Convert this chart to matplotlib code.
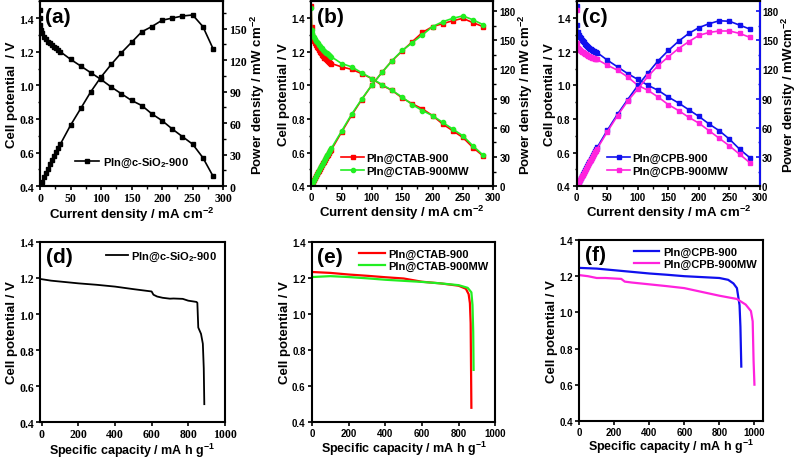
import matplotlib
matplotlib.use("Agg")
import matplotlib.pyplot as plt
from matplotlib.ticker import AutoMinorLocator

# ---- data ----
# (a) PIn@c-SiO2-900 polarisation
cur_a = [0, 0.3, 0.7, 1.7, 3.3, 6.7, 10, 13.3, 16.7, 20, 23.3, 26.7, 30, 33.3,
         50, 66.7, 83.3, 100, 116.7, 133.3, 150, 166.7, 183.3, 200, 216.7, 233.3, 250, 266.7, 283.3]
volt_a = [1.45, 1.40, 1.36, 1.33, 1.31, 1.29, 1.275, 1.26, 1.25, 1.24, 1.23, 1.22, 1.21, 1.20,
          1.155, 1.115, 1.075, 1.035, 0.99, 0.95, 0.91, 0.88, 0.83, 0.79, 0.74, 0.695, 0.65, 0.57, 0.46]
pow_a = [0, 0.4, 1.0, 2.3, 4.3, 8.6, 12.8, 16.8, 20.8, 24.8, 28.7, 32.6, 36.3, 40,
         58, 74, 90, 104, 116, 127, 137, 147, 152, 158, 160, 162, 163, 152, 131]

# (b),(c) share the current grid
cur_bc = [0, 0.7, 1.7, 3.3, 5, 6.7, 8.3, 10, 11.7, 13.3, 15, 16.7, 18.3, 20, 21.7, 23.3, 25, 26.7,
          28.3, 30, 31.7, 33.3, 50, 66.7, 83.3, 100, 116.7, 133.3, 150, 166.7, 183.3, 200, 216.7,
          233.3, 250, 266.7, 283.3]
volt_ctab = [1.47, 1.35, 1.30, 1.28, 1.265, 1.25, 1.24, 1.23, 1.22, 1.21, 1.20, 1.19, 1.18, 1.175,
             1.165, 1.16, 1.155, 1.15, 1.145, 1.14, 1.135, 1.13, 1.11, 1.095, 1.07, 1.04, 1.0, 0.97,
             0.925, 0.89, 0.86, 0.82, 0.77, 0.73, 0.69, 0.63, 0.58]
pow_ctab = [0, 0.9, 2.2, 4.2, 6.3, 8.4, 10.3, 12.3, 14.3, 16.1, 18, 19.9, 21.6, 23.5, 25.3, 27, 28.9,
            30.7, 32.4, 34.2, 36, 37.6, 55.5, 73, 89, 104, 117, 129, 139, 148.5, 158, 164, 167, 170,
            172.5, 168, 164]
volt_ctab_mw = [1.46, 1.33, 1.31, 1.295, 1.285, 1.275, 1.265, 1.255, 1.25, 1.24, 1.235, 1.225, 1.22,
                1.21, 1.205, 1.2, 1.195, 1.19, 1.185, 1.18, 1.175, 1.17, 1.13, 1.11, 1.075, 1.04,
                1.005, 0.97, 0.93, 0.885, 0.85, 0.82, 0.78, 0.74, 0.70, 0.64, 0.585]
pow_ctab_mw = [0, 0.9, 2.2, 4.3, 6.4, 8.5, 10.5, 12.6, 14.6, 16.5, 18.5, 20.4, 22.3, 24.2, 26.1, 28,
               29.9, 31.8, 33.5, 35.4, 37.2, 39, 56.5, 74, 89.5, 104, 117, 129, 139.5, 147.5, 155.5,
               164, 169, 172.5, 175, 171, 166]
volt_cpb = [1.47, 1.36, 1.32, 1.30, 1.29, 1.28, 1.27, 1.262, 1.255, 1.248, 1.241, 1.235, 1.229,
            1.224, 1.219, 1.214, 1.21, 1.206, 1.203, 1.2, 1.197, 1.195, 1.15, 1.11, 1.07, 1.035,
            1.0, 0.97, 0.93, 0.895, 0.855, 0.815, 0.77, 0.73, 0.68, 0.62, 0.57]
pow_cpb = [0, 1, 2.2, 4.3, 6.5, 8.5, 10.6, 12.6, 14.7, 16.6, 18.6, 20.6, 22.5, 24.5, 26.4, 28.3, 30.1,
           32, 33.8, 35.9, 37.9, 39.8, 57.5, 74, 89, 103.5, 116.5, 129, 139.5, 149, 157, 163, 167,
           170, 169.5, 165.5, 161.5]
volt_cpb_mw = [1.45, 1.25, 1.225, 1.215, 1.21, 1.205, 1.2, 1.196, 1.192, 1.188, 1.184, 1.18, 1.177,
               1.174, 1.171, 1.168, 1.165, 1.162, 1.16, 1.158, 1.156, 1.154, 1.12, 1.09, 1.05, 1.0,
               0.97, 0.93, 0.885, 0.85, 0.81, 0.775, 0.73, 0.685, 0.64, 0.59, 0.54]
pow_cpb_mw = [0, 0.9, 2.1, 4, 6, 8, 10, 11.9, 13.9, 15.8, 17.8, 19.7, 21.5, 23.5, 25.4, 27.2, 29.1,
              31, 32.9, 34.7, 36.6, 38.4, 56, 72.5, 87.5, 100, 113, 124, 133, 141.5, 148.5, 155,
              158, 159.5, 159.5, 157, 153]

# (d) discharge
cap_d = [0, 50, 100, 200, 300, 400, 500, 600, 610, 630, 660, 700, 720, 770, 800, 845, 850, 855, 870, 880, 885, 888]
volt_d = [1.193, 1.185, 1.18, 1.17, 1.162, 1.152, 1.138, 1.125, 1.107, 1.097, 1.09, 1.085, 1.086, 1.084,
          1.074, 1.067, 1.062, 0.925, 0.89, 0.835, 0.70, 0.50]
# (e)
cap_e1 = [0, 100, 200, 300, 400, 500, 600, 700, 800, 840, 855, 862, 866, 870]
volt_e1 = [1.233, 1.228, 1.219, 1.212, 1.204, 1.197, 1.179, 1.170, 1.157, 1.14, 1.11, 1.06, 0.95, 0.48]
cap_e2 = [0, 100, 200, 300, 400, 500, 600, 700, 800, 850, 870, 876, 880, 882]
volt_e2 = [1.205, 1.21, 1.205, 1.198, 1.19, 1.184, 1.178, 1.17, 1.16, 1.145, 1.12, 1.05, 0.90, 0.69]
# (f)
cap_f1 = [0, 100, 200, 300, 400, 500, 600, 700, 800, 850, 880, 900, 915, 920, 925]
volt_f1 = [1.246, 1.242, 1.233, 1.224, 1.215, 1.208, 1.2, 1.195, 1.19, 1.18, 1.16, 1.134, 1.04, 0.92, 0.70]
cap_f2 = [0, 50, 100, 150, 240, 260, 300, 400, 500, 600, 700, 800, 900, 950, 980, 990, 995, 1000]
volt_f2 = [1.206, 1.20, 1.19, 1.19, 1.185, 1.17, 1.165, 1.155, 1.145, 1.134, 1.113, 1.092, 1.074,
           1.043, 1.007, 0.95, 0.735, 0.60]

# tick values
v_ticks = [0.4, 0.6, 0.8, 1.0, 1.2, 1.4]
cur_ticks = [0, 50, 100, 150, 200, 250, 300]
cap_ticks = [0, 200, 400, 600, 800, 1000]
p_ticks_a = [0, 30, 60, 90, 120, 150]
p_ticks_bc = [0, 30, 60, 90, 120, 150, 180]

RED = "#ff0000"
GREEN = "#22ee22"
BLUE = "#1010ee"
MAG = "#ff22dd"

plt.rcParams["font.family"] = ["Liberation Sans", "DejaVu Sans"]
plt.rcParams["font.weight"] = "bold"
plt.rcParams["axes.linewidth"] = 1.5
plt.rcParams["mathtext.fontset"] = "custom"
plt.rcParams["mathtext.rm"] = "Liberation Sans:bold"
plt.rcParams["mathtext.bf"] = "Liberation Sans:bold"
plt.rcParams["mathtext.it"] = "Liberation Sans:bold"
plt.rcParams["mathtext.default"] = "rm"

fig = plt.figure(figsize=(8, 4.6), dpi=100)

LABEL_FS = 9.5


def fam_of(serif):
    return ["Liberation Serif", "DejaVu Serif"] if serif else ["Liberation Sans", "DejaVu Sans"]


def set_ticks(ax, which, vals, fmt, serif):
    kw = dict(fontfamily=fam_of(serif), fontweight="bold", fontsize=8.5 if serif else 7)
    labels = [fmt % v for v in vals]
    if which == "x":
        ax.set_xticks(vals, labels, **kw)
    else:
        ax.set_yticks(vals, labels, **kw)


def style(ax, xlabel, ylabel, letter, xfs=LABEL_FS):
    ax.tick_params(direction="out", length=3, width=1.2, pad=1.5)
    ax.tick_params(which="minor", direction="out", length=1.8, width=1)
    ax.set_xlabel(xlabel, fontsize=xfs, fontweight="bold", labelpad=0)
    ax.set_ylabel(ylabel, fontsize=LABEL_FS, fontweight="bold", labelpad=1)
    ax.text(0.03, 0.97, letter, transform=ax.transAxes, fontsize=15, fontweight="bold",
            va="top", ha="left")


def twin_style(ax2, label, color="black"):
    d = "in" if color != "black" else "out"
    ax2.tick_params(direction=d, length=3, width=1.2, pad=1.5, color=color, labelcolor="black")
    ax2.tick_params(which="minor", axis="y", length=1.8, width=1, color=color, direction=d)
    ax2.spines["right"].set_color(color)
    ax2.set_ylabel(label, fontsize=LABEL_FS, fontweight="bold", labelpad=1)


xlab_top = "Current density / mA cm$^{-2}$"
xlab_bot = "Specific capacity / mA h g$^{-1}$"
sio2 = "PIn@c-SiO$_2$-900"

# ---- (a) ----
ax = fig.add_axes([0.05, 0.593, 0.229, 0.402])
ax.plot(cur_a, volt_a, "-s", color="black", ms=3, lw=1.2, label=sio2)
ax.set_xlim(0, 300)
ax.set_ylim(0.4, 1.5)
set_ticks(ax, "x", cur_ticks, "%d", True)
set_ticks(ax, "y", v_ticks, "%.1f", True)
ax.xaxis.set_minor_locator(AutoMinorLocator(2))
ax.yaxis.set_minor_locator(AutoMinorLocator(2))
style(ax, xlab_top, "Cell potential  / V", "(a)")
ax.legend(loc="lower center", bbox_to_anchor=(0.5, 0.04), frameon=False, fontsize=8,
          handlelength=2.2, handletextpad=0.3)
ax2 = ax.twinx()
ax2.plot(cur_a, pow_a, "-s", color="black", ms=3, lw=1.2)
ax2.set_ylim(0, 176)
set_ticks(ax2, "y", p_ticks_a, "%d", True)
ax2.yaxis.set_minor_locator(AutoMinorLocator(2))
twin_style(ax2, "Power density / mW cm$^{-2}$")

# ---- (b) ----
ax = fig.add_axes([0.389, 0.593, 0.2275, 0.402])
ax.plot(cur_bc, volt_ctab, "-s", color=RED, ms=3, lw=1.2, label="PIn@CTAB-900")
ax.plot(cur_bc, volt_ctab_mw, "-o", color=GREEN, ms=3, lw=1.2, label="PIn@CTAB-900MW")
ax.set_xlim(0, 300)
ax.set_ylim(0.4, 1.5)
set_ticks(ax, "x", cur_ticks, "%d", False)
set_ticks(ax, "y", v_ticks, "%.1f", False)
ax.xaxis.set_minor_locator(AutoMinorLocator(2))
ax.yaxis.set_minor_locator(AutoMinorLocator(2))
style(ax, xlab_top, "Cell potential / V", "(b)")
ax.legend(loc="lower left", bbox_to_anchor=(0.11, 0.0), frameon=False, fontsize=8.2,
          handlelength=2.0, handletextpad=0.2, labelspacing=0.25)
ax2 = ax.twinx()
ax2.plot(cur_bc, pow_ctab, "-s", color=RED, ms=3, lw=1.2)
ax2.plot(cur_bc, pow_ctab_mw, "-o", color=GREEN, ms=3, lw=1.2)
ax2.set_ylim(0, 190)
set_ticks(ax2, "y", p_ticks_bc, "%d", False)
ax2.yaxis.set_minor_locator(AutoMinorLocator(2))
twin_style(ax2, "Power density / mW cm$^{-2}$")

# ---- (c) ----
ax = fig.add_axes([0.721, 0.593, 0.229, 0.402])
ax.plot(cur_bc, volt_cpb, "-s", color=BLUE, ms=3, lw=1.2, label="PIn@CPB-900")
ax.plot(cur_bc, volt_cpb_mw, "-s", color=MAG, ms=3, lw=1.2, label="PIn@CPB-900MW")
ax.set_xlim(0, 300)
ax.set_ylim(0.4, 1.5)
set_ticks(ax, "x", cur_ticks, "%d", False)
set_ticks(ax, "y", v_ticks, "%.1f", False)
ax.xaxis.set_minor_locator(AutoMinorLocator(2))
ax.yaxis.set_minor_locator(AutoMinorLocator(2))
style(ax, xlab_top, "Cell potential / V", "(c)")
ax.legend(loc="lower left", bbox_to_anchor=(0.11, 0.0), frameon=False, fontsize=8.2,
          handlelength=2.0, handletextpad=0.2, labelspacing=0.25)
ax2 = ax.twinx()
ax2.plot(cur_bc, pow_cpb, "-s", color=BLUE, ms=3, lw=1.2)
ax2.plot(cur_bc, pow_cpb_mw, "-s", color=MAG, ms=3, lw=1.2)
ax2.set_ylim(0, 190)
set_ticks(ax2, "y", p_ticks_bc, "%d", False)
ax2.yaxis.set_minor_locator(AutoMinorLocator(2))
twin_style(ax2, "Power density / mWcm$^{-2}$", color=BLUE)

# ---- (d) ----
ax = fig.add_axes([0.05, 0.08, 0.231, 0.392])
ax.plot(cap_d, volt_d, "-", color="black", lw=1.3, label=sio2)
ax.set_xlim(-10, 1000)
ax.set_ylim(0.4, 1.4)
set_ticks(ax, "x", cap_ticks, "%d", True)
set_ticks(ax, "y", v_ticks, "%.1f", True)
style(ax, xlab_bot, "Cell potential / V", "(d)", xfs=9)
ax.legend(loc="upper right", frameon=False, fontsize=8, handlelength=2.0,
          handletextpad=0.3, borderaxespad=0.3)

# ---- (e) ----
ax = fig.add_axes([0.39, 0.08, 0.229, 0.392])
ax.plot(cap_e1, volt_e1, "-", color=RED, lw=1.6, label="PIn@CTAB-900")
ax.plot(cap_e2, volt_e2, "-", color=GREEN, lw=1.6, label="PIn@CTAB-900MW")
ax.set_xlim(0, 1000)
ax.set_ylim(0.4, 1.4)
set_ticks(ax, "x", cap_ticks, "%d", False)
set_ticks(ax, "y", v_ticks, "%.1f", False)
style(ax, xlab_bot, "Cell potential / V", "(e)", xfs=9)
ax.legend(loc="upper right", frameon=False, fontsize=8, handlelength=2.3,
          handletextpad=0.3, borderaxespad=0.2, labelspacing=0.2)

# ---- (f) ----
ax = fig.add_axes([0.724, 0.083, 0.23, 0.393])
ax.plot(cap_f1, volt_f1, "-", color=BLUE, lw=1.6, label="PIn@CPB-900")
ax.plot(cap_f2, volt_f2, "-", color=MAG, lw=1.6, label="PIn@CPB-900MW")
ax.set_xlim(0, 1050)
ax.set_ylim(0.4, 1.4)
set_ticks(ax, "x", cap_ticks, "%d", False)
set_ticks(ax, "y", v_ticks, "%.1f", False)
style(ax, xlab_bot, "Cell potential / V", "(f)", xfs=9)
ax.legend(loc="upper right", frameon=False, fontsize=8, handlelength=2.3,
          handletextpad=0.3, borderaxespad=0.2, labelspacing=0.2)

fig.savefig("out.png", dpi=100)
